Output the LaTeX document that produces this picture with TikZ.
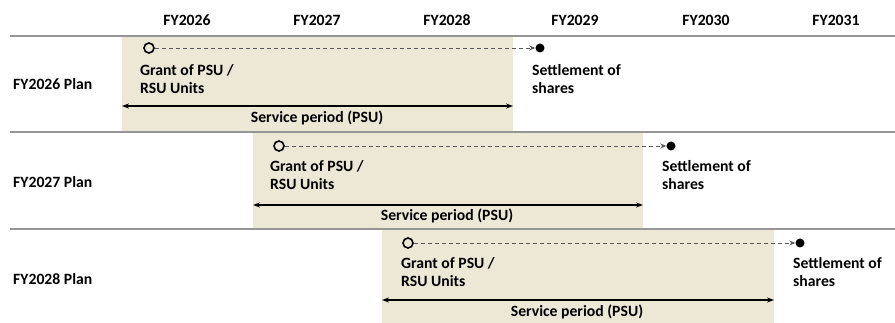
\documentclass[tikz,border=0pt]{standalone}
\usepackage{fontspec}
\setmainfont{Carlito}
\usetikzlibrary{arrows.meta}
\definecolor{beige}{RGB}{237,231,214}
\definecolor{rule}{RGB}{150,150,150}
\definecolor{dash}{RGB}{90,90,90}
\begin{document}
\begin{tikzpicture}[x=1pt,y=-1pt,
  every node/.style={font=\fontsize{15.7}{18}\selectfont\bfseries, inner sep=0pt},
  lbl/.style={align=left, anchor=west},
  hdr/.style={anchor=center},
  opendot/.style={circle, draw=black, line width=1.6pt, minimum size=10pt, fill=none},
  fulldot/.style={circle, fill=black, minimum size=9pt},
  flow/.style={draw=dash, line width=0.9pt, dash pattern=on 4pt off 3pt, -{Stealth[length=6pt,width=5pt]}},
  service/.style={draw=black, line width=1.4pt, {Stealth[length=7pt,width=5pt]}-{Stealth[length=7pt,width=5pt]}},
  band/.style={fill=beige},
  sep/.style={draw=rule, line width=1.3pt}]
\useasboundingbox (0,0) rectangle (895,323);
% shaded bands
\fill[band] (122,36) rectangle (513,132);
\fill[band] (253,132) rectangle (643,229);
\fill[band] (382,229) rectangle (774,323);
% separators
\draw[sep] (10,36) -- (895,36);
\draw[sep] (10,132) -- (895,132);
\draw[sep] (10,229) -- (895,229);
% headers
\node[hdr] (h26) at (187,20) {FY2026};
\node[hdr] (h27) at (317,20) {FY2027};
\node[hdr] (h28) at (447,20) {FY2028};
\node[hdr] (h29) at (575,20) {FY2029};
\node[hdr] (h30) at (706,20) {FY2030};
\node[hdr] (h31) at (836,20) {FY2031};
% plan labels
\node[lbl] (p1) at (13,84) {FY2026 Plan};
\node[lbl] (p2) at (13,182) {FY2027 Plan};
\node[lbl] (p3) at (13,279) {FY2028 Plan};
% row 1
\node[opendot] (g1) at (149,48) {};
\node[fulldot] (s1) at (540,48) {};
\draw[flow] (g1) -- (s1);
\node[lbl] (gt1) at (140,79) {Grant of PSU /\\RSU Units};
\node[lbl] (st1) at (532,79) {Settlement of\\shares};
\coordinate (a1l) at (122,106);
\coordinate (a1r) at (513,106);
\draw[service] (a1l) -- (a1r);
\node (sv1) at (317,118) {Service period (PSU)};
% row 2
\node[opendot] (g2) at (279,146) {};
\node[fulldot] (s2) at (671,146) {};
\draw[flow] (g2) -- (s2);
\node[lbl] (gt2) at (270,175) {Grant of PSU /\\RSU Units};
\node[lbl] (st2) at (662,175) {Settlement of\\shares};
\coordinate (a2l) at (253,205);
\coordinate (a2r) at (643,205);
\draw[service] (a2l) -- (a2r);
\node (sv2) at (447,216) {Service period (PSU)};
% row 3
\node[opendot] (g3) at (408,243) {};
\node[fulldot] (s3) at (800,243) {};
\draw[flow] (g3) -- (s3);
\node[lbl] (gt3) at (401,272) {Grant of PSU /\\RSU Units};
\node[lbl] (st3) at (793,272) {Settlement of\\shares};
\coordinate (a3l) at (382,300);
\coordinate (a3r) at (774,300);
\draw[service] (a3l) -- (a3r);
\node (sv3) at (577,312) {Service period (PSU)};
\end{tikzpicture}
\end{document}
